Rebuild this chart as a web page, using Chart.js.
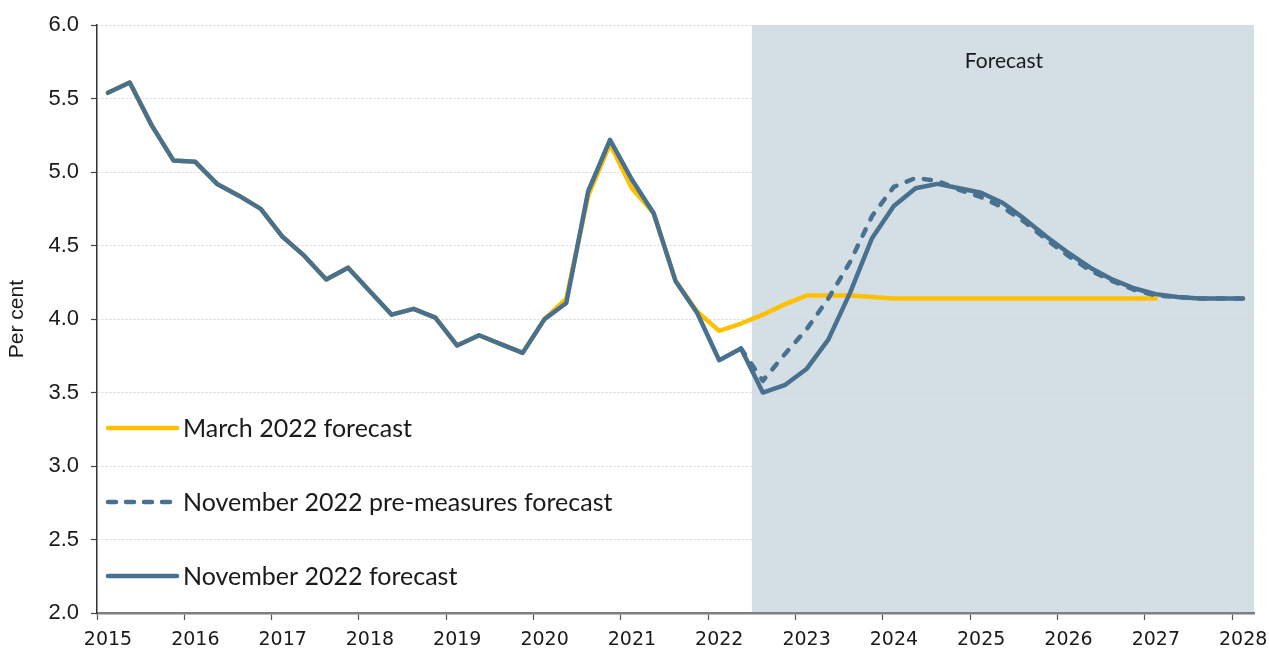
<!DOCTYPE html>
<html>
<head>
<meta charset="utf-8">
<script src="https://cdn.jsdelivr.net/npm/chart.js@4.4.1/dist/chart.umd.min.js"></script>
<style>
  html, body { margin: 0; padding: 0; background: #ffffff; }
  #wrap { width: 1269px; height: 649px; }
</style>
</head>
<body>
<div id="wrap"><canvas id="c" width="1269" height="649"></canvas></div>
<script>
// ---------- DATA ----------
const quarters = [
  '2015 Q1','2015 Q2','2015 Q3','2015 Q4',
  '2016 Q1','2016 Q2','2016 Q3','2016 Q4',
  '2017 Q1','2017 Q2','2017 Q3','2017 Q4',
  '2018 Q1','2018 Q2','2018 Q3','2018 Q4',
  '2019 Q1','2019 Q2','2019 Q3','2019 Q4',
  '2020 Q1','2020 Q2','2020 Q3','2020 Q4',
  '2021 Q1','2021 Q2','2021 Q3','2021 Q4',
  '2022 Q1','2022 Q2','2022 Q3','2022 Q4',
  '2023 Q1','2023 Q2','2023 Q3','2023 Q4',
  '2024 Q1','2024 Q2','2024 Q3','2024 Q4',
  '2025 Q1','2025 Q2','2025 Q3','2025 Q4',
  '2026 Q1','2026 Q2','2026 Q3','2026 Q4',
  '2027 Q1','2027 Q2','2027 Q3','2027 Q4',
  '2028 Q1'
];

const march2022 = [
  5.54, 5.61, 5.32, 5.08, 5.07, 4.92, 4.84, 4.75,
  4.56, 4.43, 4.27, 4.35, 4.19, 4.03, 4.07, 4.01,
  3.82, 3.89, 3.83, 3.77, 4.00, 4.14, 4.84, 5.19,
  4.89, 4.72, 4.26, 4.05, 3.92, 3.97, 4.03, 4.10,
  4.16, 4.16, 4.16, 4.15, 4.14, 4.14, 4.14, 4.14,
  4.14, 4.14, 4.14, 4.14, 4.14, 4.14, 4.14, 4.14,
  4.14
];

const nov2022PreMeasures = [
  null, null, null, null, null, null, null, null,
  null, null, null, null, null, null, null, null,
  null, null, null, null, null, null, null, null,
  null, null, null, null, null, 3.80, 3.58, 3.76,
  3.93, 4.14, 4.39, 4.70, 4.90, 4.96, 4.94, 4.88,
  4.83, 4.76, 4.66, 4.54, 4.43, 4.33, 4.26, 4.20,
  4.16, 4.15, 4.14, 4.14, 4.14
];

const nov2022 = [
  5.54, 5.61, 5.32, 5.08, 5.07, 4.92, 4.84, 4.75,
  4.56, 4.43, 4.27, 4.35, 4.19, 4.03, 4.07, 4.01,
  3.82, 3.89, 3.83, 3.77, 4.00, 4.11, 4.87, 5.22,
  4.95, 4.72, 4.26, 4.04, 3.72, 3.80, 3.50, 3.55,
  3.66, 3.86, 4.18, 4.55, 4.77, 4.89, 4.92, 4.89,
  4.86, 4.79, 4.68, 4.56, 4.45, 4.35, 4.27, 4.21,
  4.17, 4.15, 4.14, 4.14, 4.14
];

const seriesLabels = ['March 2022 forecast', 'November 2022 pre-measures forecast', 'November 2022 forecast'];
const yearTicks = [2015, 2016, 2017, 2018, 2019, 2020, 2021, 2022, 2023, 2024, 2025, 2026, 2027, 2028];
const yTicks = [2.0, 2.5, 3.0, 3.5, 4.0, 4.5, 5.0, 5.5, 6.0];
const forecastStart = 2022.5;   // start of shaded forecast period
const axisEnd = 2028.25;
const forecastLabel = 'Forecast';
const yTitle = 'Per cent';

// ---------- helpers ----------
function qToX(q) {
  const parts = q.split(' Q');
  return Number(parts[0]) + (Number(parts[1]) - 0.5) / 4;
}
function toPoints(arr) {
  const pts = [];
  arr.forEach((v, i) => { pts.push({ x: qToX(quarters[i]), y: v }); });
  return pts;
}

const YELLOW = '#FFC000';
const BLUE = '#48708F';
const SHADE = '#D4DEE5';
const FUTURA = "Lato, 'Noto Sans', sans-serif";
const WIDE = "'DejaVu Sans', 'Noto Sans', sans-serif";
const ARIAL = "'Liberation Sans', Arial, sans-serif";

const shadePlugin = {
  id: 'shade',
  beforeDraw(chart) {
    const { ctx, chartArea, scales } = chart;
    const x0 = scales.x.getPixelForValue(forecastStart);
    ctx.save();
    ctx.fillStyle = SHADE;
    ctx.fillRect(x0, chartArea.top, chartArea.right - x0, chartArea.bottom - chartArea.top);
    ctx.restore();
  },
  afterDatasetsDraw(chart) {
    const { ctx, chartArea, scales } = chart;
    const x0 = scales.x.getPixelForValue(forecastStart);
    ctx.save();
    ctx.fillStyle = '#1a1a1a';
    ctx.font = "21px " + FUTURA;
    ctx.textAlign = 'center';
    ctx.textBaseline = 'middle';
    ctx.fillText(forecastLabel, (x0 + chartArea.right) / 2 + 1, chartArea.top + 36);
    ctx.restore();
  }
};

const legendPlugin = {
  id: 'customLegend',
  afterDatasetsDraw(chart) {
    const { ctx, chartArea } = chart;
    const rows = [428, 502, 576];
    const styles = [
      { color: YELLOW, dash: [] },
      { color: BLUE, dash: [8, 10] },
      { color: BLUE, dash: [] }
    ];
    ctx.save();
    seriesLabels.forEach((lab, i) => {
      const y = rows[i];
      const x1 = chartArea.left + 11, x2 = chartArea.left + 80;
      ctx.beginPath();
      ctx.strokeStyle = styles[i].color;
      ctx.lineWidth = 4.5;
      ctx.lineCap = 'round';
      ctx.setLineDash(styles[i].dash);
      ctx.moveTo(x1, y);
      ctx.lineTo(x2, y);
      ctx.stroke();
      ctx.setLineDash([]);
      ctx.fillStyle = '#1a1a1a';
      ctx.font = "25px " + FUTURA;
      ctx.textAlign = 'left';
      ctx.textBaseline = 'middle';
      ctx.fillText(lab, x2 + 6, y + 1);
    });
    ctx.restore();
  }
};

new Chart(document.getElementById('c'), {
  type: 'line',
  data: {
    datasets: [
      {
        label: seriesLabels[0], data: toPoints(march2022),
        borderColor: YELLOW, borderWidth: 4.5, pointRadius: 0, tension: 0,
        borderJoinStyle: 'round', borderCapStyle: 'round', order: 3, spanGaps: false
      },
      {
        label: seriesLabels[1], data: toPoints(nov2022PreMeasures),
        borderColor: BLUE, borderWidth: 4.5, pointRadius: 0, tension: 0,
        borderDash: [7, 11], borderCapStyle: 'round', borderJoinStyle: 'round', order: 2
      },
      {
        label: seriesLabels[2], data: toPoints(nov2022),
        borderColor: BLUE, borderWidth: 4.5, pointRadius: 0, tension: 0,
        borderJoinStyle: 'round', borderCapStyle: 'round', order: 1
      }
    ]
  },
  options: {
    responsive: false,
    animation: false,
    devicePixelRatio: 1,
    layout: { padding: { left: 0, top: 23, right: 15, bottom: 0 } },
    plugins: {
      legend: { display: false },
      tooltip: { enabled: false }
    },
    scales: {
      x: {
        type: 'linear',
        min: 2015,
        max: axisEnd,
        afterBuildTicks: (s) => { s.ticks = yearTicks.map(v => ({ value: v })); },
        afterFit: (s) => { s.height = 36; },
        ticks: {
          autoSkip: false,
          maxRotation: 0,
          labelOffset: 11,
          padding: 9,
          color: '#1a1a1a',
          font: { family: WIDE, size: 19 },
          callback: (v) => String(v)
        },
        grid: {
          drawOnChartArea: false,
          drawTicks: true,
          tickLength: 7,
          tickColor: '#555555',
          tickWidth: 1.2
        },
        border: { display: true, color: '#7f7f7f', width: 2.5 }
      },
      y: {
        min: 2,
        max: 6,
        afterBuildTicks: (s) => { s.ticks = yTicks.map(v => ({ value: v })); },
        afterFit: (s) => { s.width = 97; },
        title: {
          display: true, text: yTitle, color: '#1a1a1a',
          font: { family: ARIAL, size: 21 },
          padding: { top: 5, bottom: 0 }
        },
        ticks: {
          color: '#1a1a1a',
          padding: 12,
          font: { family: ARIAL, size: 22 },
          callback: (v) => Number(v).toFixed(1)
        },
        grid: {
          color: '#d6d6d6',
          lineWidth: 1,
          drawTicks: true,
          tickLength: 6,
          tickColor: '#444444',
          tickWidth: 1.2
        },
        border: { display: true, color: '#333333', width: 1.5, dash: [2, 2] }
      }
    }
  },
  plugins: [shadePlugin, legendPlugin]
});
</script>
</body>
</html>
